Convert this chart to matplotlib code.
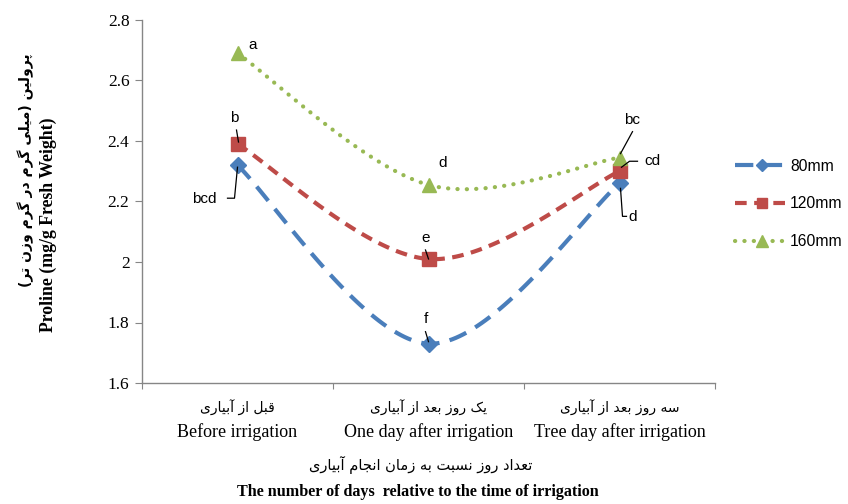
import numpy as np
import matplotlib
matplotlib.use("Agg")
import matplotlib.pyplot as plt
from matplotlib.lines import Line2D

# ---------------- data ----------------
categories_en = ["Before irrigation", "One day after irrigation", "Tree day after irrigation"]
categories_fa = ["قبل از آبیاری", "یک روز بعد از آبیاری", "سه روز بعد از آبیاری"]
series_names = ["80mm", "120mm", "160mm"]
v80 = [2.32, 1.73, 2.26]
v120 = [2.39, 2.01, 2.30]
v160 = [2.69, 2.255, 2.345]
letters80 = ["bcd", "f", "d"]
letters120 = ["b", "e", "cd"]
letters160 = ["a", "d", "bc"]
yticks = [1.6, 1.8, 2.0, 2.2, 2.4, 2.6, 2.8]
ytick_labels = ["1.6", "1.8", "2", "2.2", "2.4", "2.6", "2.8"]
ylabel_en = "Proline (mg/g Fresh Weight)"
ylabel_fa = "پرولین (میلی گرم در گرم وزن تر)"
xlabel_en = "The number of days  relative to the time of irrigation"
xlabel_fa = "تعداد روز نسبت به زمان انجام آبیاری"

# ------------- simple Persian shaping (presentation forms, visual order) -------------
FORMS = {
    'ا': ('\uFE8D', '\uFE8E', None, None),
    'آ': ('\uFE81', '\uFE82', None, None),
    'ب': ('\uFE8F', '\uFE90', '\uFE91', '\uFE92'),
    'پ': ('\uFB56', '\uFB57', '\uFB58', '\uFB59'),
    'ت': ('\uFE95', '\uFE96', '\uFE97', '\uFE98'),
    'ج': ('\uFE9D', '\uFE9E', '\uFE9F', '\uFEA0'),
    'د': ('\uFEA9', '\uFEAA', None, None),
    'ر': ('\uFEAD', '\uFEAE', None, None),
    'ز': ('\uFEAF', '\uFEB0', None, None),
    'س': ('\uFEB1', '\uFEB2', '\uFEB3', '\uFEB4'),
    'ع': ('\uFEC9', '\uFECA', '\uFECB', '\uFECC'),
    'ق': ('\uFED5', '\uFED6', '\uFED7', '\uFED8'),
    'ک': ('\uFB8E', '\uFB8F', '\uFB90', '\uFB91'),
    'گ': ('\uFB92', '\uFB93', '\uFB94', '\uFB95'),
    'ل': ('\uFEDD', '\uFEDE', '\uFEDF', '\uFEE0'),
    'م': ('\uFEE1', '\uFEE2', '\uFEE3', '\uFEE4'),
    'ن': ('\uFEE5', '\uFEE6', '\uFEE7', '\uFEE8'),
    'ه': ('\uFEE9', '\uFEEA', '\uFEEB', '\uFEEC'),
    'و': ('\uFEED', '\uFEEE', None, None),
    'ی': ('\uFBFC', '\uFBFD', '\uFBFE', '\uFBFF'),
}
MIRROR = {'(': ')', ')': '('}


def shape(text):
    out = []
    n = len(text)
    for i, ch in enumerate(text):
        if ch not in FORMS:
            out.append(MIRROR.get(ch, ch))
            continue
        f = FORMS[ch]
        prev = text[i - 1] if i > 0 else ''
        nxt = text[i + 1] if i + 1 < n else ''
        join_prev = prev in FORMS and FORMS[prev][2] is not None
        join_next = f[2] is not None and nxt in FORMS
        if join_prev and join_next:
            out.append(f[3])
        elif join_prev:
            out.append(f[1])
        elif join_next:
            out.append(f[2])
        else:
            out.append(f[0])
    return ''.join(reversed(out))


# ---------------- figure ----------------
W, H = 848, 504
fig = plt.figure(figsize=(W / 100, H / 100), dpi=100)
L, R, T, B = 142, 715, 20, 383
ax = fig.add_axes([L / W, 1 - B / H, (R - L) / W, (B - T) / H])

x = np.arange(len(categories_en))
ax.set_xlim(-0.5, 2.5)
ax.set_ylim(1.6, 2.8)

blue = "#4A7EBB"
red = "#BE4B48"
green = "#98B954"


def smooth(xs, ys, n=60):
    P = np.column_stack([xs, ys]).astype(float)
    pts = []
    m = len(P)
    for i in range(m - 1):
        p0 = P[max(i - 1, 0)]
        p1 = P[i]
        p2 = P[i + 1]
        p3 = P[min(i + 2, m - 1)]
        c1 = p1 + (p2 - p0) / 6.0
        c2 = p2 - (p3 - p1) / 6.0
        t = np.linspace(0, 1, n)[:, None]
        seg = ((1 - t) ** 3) * p1 + 3 * ((1 - t) ** 2) * t * c1 + 3 * (1 - t) * t ** 2 * c2 + t ** 3 * p2
        pts.append(seg if i == 0 else seg[1:])
    pts = np.vstack(pts)
    return pts[:, 0], pts[:, 1]


styles = [
    (v80, blue, (0, (4.4, 2.5)), 'D', 8, 3.0, 'butt'),
    (v120, red, (0, (2.8, 1.8)), 's', 9.5, 3.0, 'butt'),
    (v160, green, (0, (0.05, 2.2)), '^', 10, 3.0, 'round'),
]
handles = []
for vals, col, ls, mk, ms, lw, cap in styles:
    sx, sy = smooth(x, vals)
    ax.plot(sx, sy, color=col, lw=lw, linestyle=ls, dash_capstyle=cap, zorder=2)
    ax.plot(x, vals, linestyle='none', marker=mk, ms=ms, color=col, mec=col, zorder=3)
    handles.append(Line2D([0], [0], color=col, lw=lw, linestyle=ls, dash_capstyle=cap,
                          marker=mk, ms=ms * 0.8, mec=col))

# axes styling
for s in ['top', 'right']:
    ax.spines[s].set_visible(False)
for s in ['left', 'bottom']:
    ax.spines[s].set_color('#868686')
    ax.spines[s].set_linewidth(1.0)
ax.set_yticks(yticks)
ax.set_yticklabels(ytick_labels, fontfamily='Liberation Serif', fontsize=12.5)
ax.tick_params(axis='y', length=5, color='#868686', pad=4)
ax.set_xticks([-0.5, 0.5, 1.5, 2.5])
ax.set_xticklabels([])
ax.tick_params(axis='x', length=4, color='#868686')

# x category labels (two lines)
xt = ax.get_xaxis_transform()
for i in range(3):
    ax.text(x[i], -(408 - B) / (B - T), shape(categories_fa[i]), transform=xt,
            ha='center', va='center', fontsize=10, family='DejaVu Sans')
    ax.text(x[i], -(432 - B) / (B - T), categories_en[i], transform=xt,
            ha='center', va='center', fontsize=13, family='Liberation Serif')

fig.text(421 / W, 1 - 465 / H, shape(xlabel_fa), ha='center', va='center',
         fontsize=10.5, family='DejaVu Sans')
fig.text(418 / W, 1 - 492 / H, xlabel_en, ha='center', va='center',
         fontsize=11.6, family='Liberation Serif', fontweight='bold')
fig.text(26 / W, 1 - 170 / H, shape(ylabel_fa), ha='center', va='center', rotation=90,
         fontsize=10, family='DejaVu Sans', fontweight='bold')
fig.text(48 / W, 1 - 225 / H, ylabel_en, ha='center', va='center', rotation=90,
         fontsize=12.8, family='Liberation Serif', fontweight='bold')

# letter annotations
ann_font = dict(fontsize=11, family='Liberation Sans', color='#000000')


def annot(xi, yi, txt, dx, dy, line=None):
    # dx, dy in pixels relative to marker; line: list of pixel offsets for leader
    k = 72 / 100
    ax.annotate(txt, (xi, yi), xytext=(dx * k, -dy * k), textcoords='offset points',
                ha='center', va='center', **ann_font)
    if line is not None:
        px, py = ax.transData.transform((xi, yi))
        pts = [(px + a, py - b) for a, b in line]
        dp = ax.transData.inverted().transform(pts)
        ax.plot(dp[:, 0], dp[:, 1], color='black', lw=0.9, zorder=4, clip_on=False)


annot(0, v160[0], letters160[0], 15, -8)
annot(0, v120[0], letters120[0], -3, -26, line=[(-1, -14), (1, -2)])
annot(0, v80[0], letters80[0], -33, 34, line=[(-10, 33), (-3, 33), (0, 2)])
annot(1, v160[1], letters160[1], 14, -22)
annot(1, v120[1], letters120[1], -3, -21, line=[(-3, -9), (0, 0)])
annot(1, v80[1], letters80[1], -3, -25, line=[(-3, -12), (0, -2)])
annot(2, v160[2], letters160[2], 13, -38, line=[(13, -26), (1, -4)])
annot(2, v120[2], letters120[2], 33, -10, line=[(18, -10), (10, -10), (2, -4)])
annot(2, v80[2], letters80[2], 13, 34, line=[(7, 33), (3, 33), (1, 5)])

leg = fig.legend(handles, series_names, loc='center left',
                 bbox_to_anchor=(735 / W, 1 - 204 / H), frameon=False,
                 borderpad=0, borderaxespad=0,
                 handlelength=3.4, labelspacing=1.45, handletextpad=0.12,
                 prop={'family': 'Liberation Sans', 'size': 11.3})

fig.savefig("out.png", dpi=100)
